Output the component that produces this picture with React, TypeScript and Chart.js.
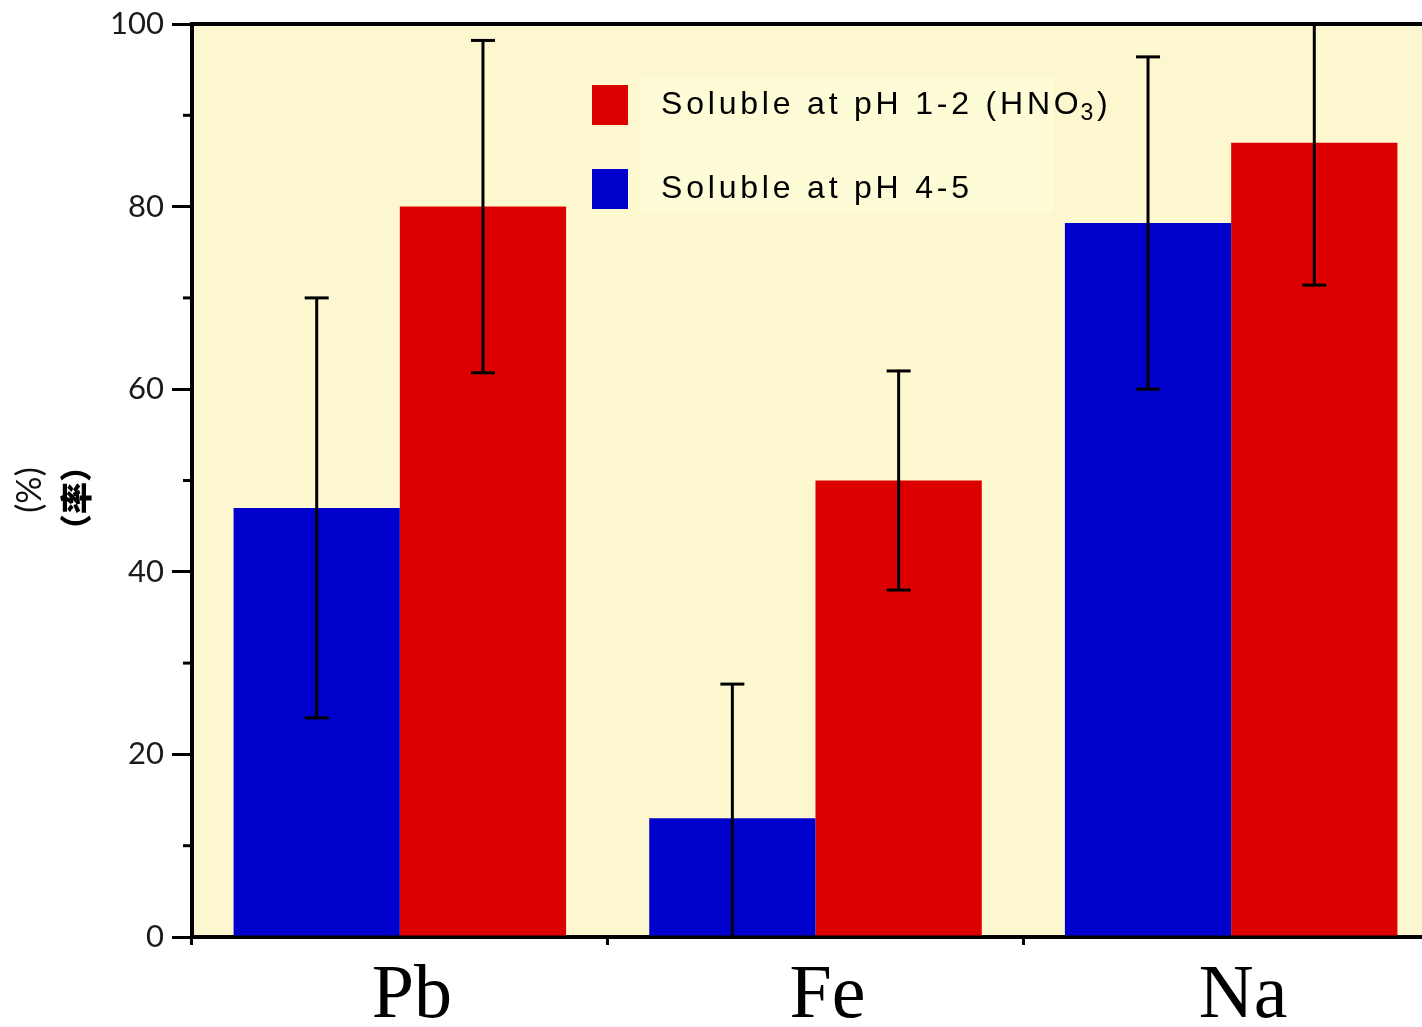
import React, { useEffect, useRef } from "react";
import { Chart, registerables } from "chart.js";

Chart.register(...registerables);

const categories = ["Pb", "Fe", "Na"];
const ph45Label = "Soluble at pH 4-5";
const ph12Label = "Soluble at pH 1-2 (HNO";
const ph45Values = [47, 13, 78.2];
const ph45Errors = [23, 14.7, 18.2];
const ph12Values = [80, 50, 87];
const ph12Errors = [18.2, 12, 15.6];
const yAxisUnit = "(%)";
const yAxisWord = "（率）";

const BLUE = "#0000CC";
const RED = "#DD0000";
const BG = "#FCF7CF";
const LEGEND_BG = "#FEFCD6";

const bgPlugin = {
  id: "bgFill",
  beforeDraw(chart: any) {
    const { ctx, chartArea: a } = chart;
    ctx.save();
    ctx.fillStyle = BG;
    ctx.fillRect(a.left, a.top, a.right - a.left, a.bottom - a.top);
    ctx.restore();
  },
};

const errorPlugin = {
  id: "errorBars",
  afterDatasetsDraw(chart: any) {
    const { ctx, chartArea: a } = chart;
    const ys = chart.scales.y;
    const errs = [ph45Errors, ph12Errors];
    ctx.save();
    ctx.beginPath();
    ctx.rect(a.left, a.top - 2, a.right - a.left, a.bottom - a.top + 2);
    ctx.clip();
    ctx.strokeStyle = "#000";
    ctx.lineWidth = 3;
    chart.data.datasets.forEach((ds: any, i: number) => {
      const meta = chart.getDatasetMeta(i);
      meta.data.forEach((el: any, j: number) => {
        const v = ds.data[j];
        const e = errs[i][j];
        const hi = v + e;
        const lo = v - e;
        const yHi = ys.getPixelForValue(Math.min(hi, ys.max));
        const yLo = ys.getPixelForValue(Math.max(lo, ys.min));
        const x = el.x;
        ctx.beginPath();
        ctx.moveTo(x, yHi);
        ctx.lineTo(x, yLo);
        ctx.stroke();
        const cw = 12;
        if (hi <= ys.max) {
          ctx.beginPath();
          ctx.moveTo(x - cw, yHi);
          ctx.lineTo(x + cw, yHi);
          ctx.stroke();
        }
        if (lo >= ys.min) {
          ctx.beginPath();
          ctx.moveTo(x - cw, yLo);
          ctx.lineTo(x + cw, yLo);
          ctx.stroke();
        }
      });
    });
    ctx.restore();
  },
};

const decoPlugin = {
  id: "deco",
  afterDraw(chart: any) {
    const { ctx, chartArea: a } = chart;
    const ys = chart.scales.y;
    ctx.save();
    // top border
    ctx.strokeStyle = "#000";
    ctx.lineWidth = 4;
    ctx.beginPath();
    ctx.moveTo(a.left - 2, a.top);
    ctx.lineTo(a.right + 2, a.top);
    ctx.moveTo(a.right, a.top);
    ctx.lineTo(a.right, a.bottom);
    ctx.stroke();
    // minor ticks
    ctx.lineWidth = 3;
    const ticks = ys.ticks.map((t: any) => t.value);
    for (let k = 0; k < ticks.length - 1; k++) {
      const mid = (ticks[k] + ticks[k + 1]) / 2;
      const y = ys.getPixelForValue(mid);
      ctx.beginPath();
      ctx.moveTo(a.left - 9, y);
      ctx.lineTo(a.left, y);
      ctx.stroke();
    }
    // y axis title
    ctx.fillStyle = "#111";
    ctx.textAlign = "center";
    ctx.textBaseline = "middle";
    ctx.save();
    ctx.translate(30, 490);
    ctx.rotate(-Math.PI / 2);
    ctx.font = "34px Lato, 'DejaVu Sans', sans-serif";
    ctx.fillText(yAxisUnit, 0, 0);
    ctx.restore();
    ctx.save();
    ctx.translate(76, 498);
    ctx.rotate(-Math.PI / 2);
    ctx.fillStyle = "#000";
    ctx.font = "900 32px 'Noto Sans CJK SC', sans-serif";
    ctx.fillText(yAxisWord, 0, 0);
    ctx.restore();

    // legend
    const lx = a.left + 400;
    const ly = a.top + 54;
    ctx.fillStyle = LEGEND_BG;
    ctx.fillRect(lx + 48, ly, 413, 135);
    const items = [
      { color: RED, text: ph12Label, sub: true },
      { color: BLUE, text: ph45Label, sub: false },
    ];
    items.forEach((it, i) => {
      const cy = ly + 27 + i * 84;
      ctx.fillStyle = it.color;
      ctx.fillRect(lx, cy - 20, 36, 40);
      ctx.fillStyle = "#000";
      ctx.textAlign = "left";
      ctx.textBaseline = "middle";
      ctx.font = "32px 'Liberation Sans', Arial, sans-serif";
      (ctx as any).letterSpacing = "3.8px";
      const tx = lx + 69;
      ctx.fillText(it.text, tx, cy);
      if (it.sub) {
        const w = ctx.measureText(it.text).width;
        ctx.font = "23px 'Liberation Sans', Arial, sans-serif";
        ctx.fillText("3", tx + w - 2, cy + 9);
        const w2 = ctx.measureText("3").width;
        ctx.font = "32px 'Liberation Sans', Arial, sans-serif";
        ctx.fillText(")", tx + w + w2 - 2, cy);
      }
      (ctx as any).letterSpacing = "0px";
    });
    ctx.restore();
  },
};

export default function App() {
  const ref = useRef<HTMLCanvasElement>(null);
  useEffect(() => {
    if (!ref.current) return;
    const chart = new Chart(ref.current, {
      type: "bar",
      data: {
        labels: categories,
        datasets: [
          {
            label: ph45Label,
            data: ph45Values,
            backgroundColor: BLUE,
            categoryPercentage: 0.8,
            barPercentage: 1.0,
          },
          {
            label: ph12Label + "3)",
            data: ph12Values,
            backgroundColor: RED,
            categoryPercentage: 0.8,
            barPercentage: 1.0,
          },
        ],
      },
      options: {
        responsive: false,
        animation: false,
        layout: { padding: { top: 24, right: 21, left: 0, bottom: 0 } },
        plugins: {
          legend: { display: false },
          tooltip: { enabled: false },
          title: { display: false },
        },
        scales: {
          x: {
            offset: true,
            grid: {
              offset: true,
              drawOnChartArea: false,
              drawTicks: true,
              tickLength: 8,
              color: "#000",
              lineWidth: 3,
            },
            border: { display: true, color: "#000", width: 4 },
            ticks: {
              color: "#000",
              padding: 6,
              labelOffset: 12,
              font: { family: "'Liberation Serif', 'Times New Roman', serif", size: 76 },
            },
            afterFit(scale: any) {
              scale.height = 90;
            },
          },
          y: {
            min: 0,
            max: 100,
            ticks: {
              stepSize: 20,
              color: "#1a1a1a",
              padding: 8,
              font: { family: "Lato, 'DejaVu Sans', sans-serif", size: 31, lineHeight: 1 },
            },
            grid: {
              drawOnChartArea: false,
              drawTicks: true,
              tickLength: 20,
              color: "#000",
              lineWidth: 3,
            },
            border: { display: true, color: "#000", width: 4 },
            afterFit(scale: any) {
              scale.width = 192;
            },
          },
        },
      },
      plugins: [bgPlugin, errorPlugin, decoPlugin],
    });
    return () => chart.destroy();
  }, []);
  return (
    <div
      style={{
        position: "fixed",
        left: 0,
        top: 0,
        width: 1422,
        height: 1027,
        overflow: "hidden",
        background: "#fff",
      }}
    >
      <canvas ref={ref} width={1460} height={1027} style={{ display: "block" }} />
    </div>
  );
}
